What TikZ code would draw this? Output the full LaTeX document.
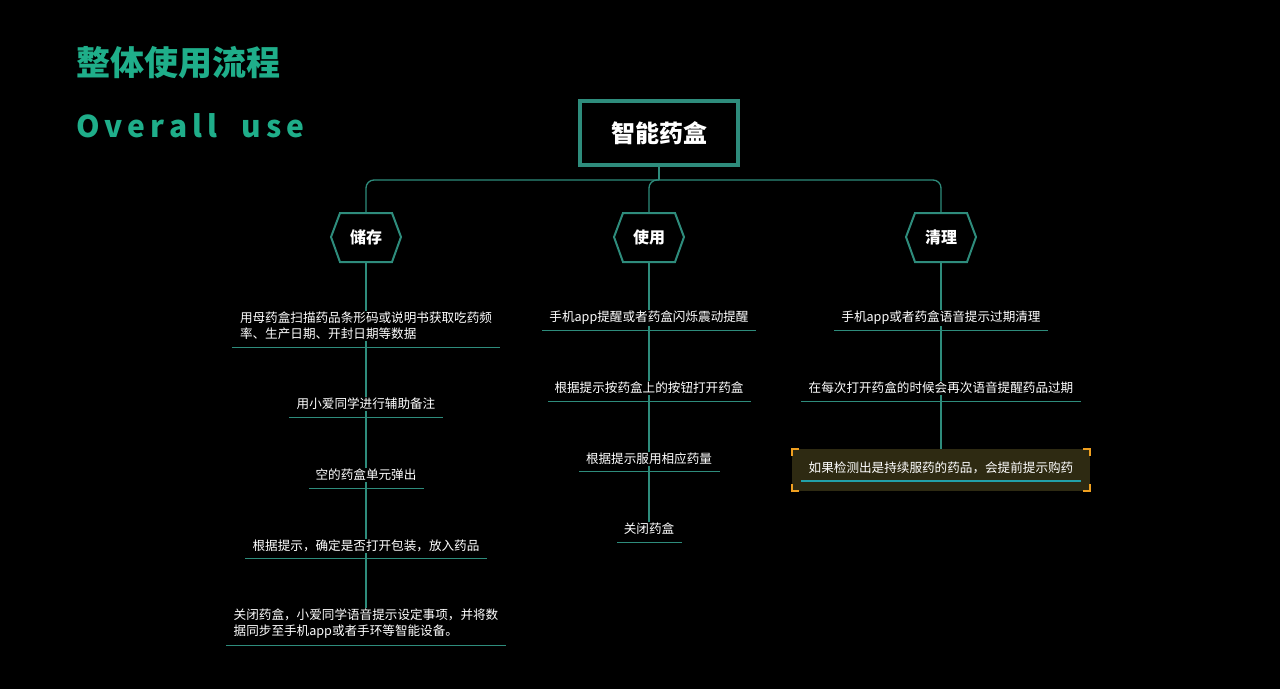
\documentclass[tikz,border=0pt]{standalone}
\usepackage{fontspec}
\setmainfont{Noto Sans CJK SC}
\usetikzlibrary{shapes.geometric}
\definecolor{tl}{HTML}{2E8C7C}
\definecolor{gr}{HTML}{1FAE8A}
\definecolor{hl}{HTML}{2E2A12}
\definecolor{og}{HTML}{F0A020}
\definecolor{ul}{HTML}{22A0A8}
\begin{document}
\begin{tikzpicture}[x=1pt,y=-1pt,
  ln/.style={tl,line width=1.3pt},
  it/.style={fill=black,text=white,font=\fontsize{12.6}{16}\selectfont,inner sep=1pt,align=left}]
\fill[black] (0,0) rectangle (1280,689);
\useasboundingbox (0,0) rectangle (1280,689);
\node[anchor=west,text=gr,font=\bfseries\fontsize{34}{38}\selectfont,inner sep=0] (t1) at (76,63) {整体使用流程};
\node[anchor=west,text=gr,font=\bfseries\fontsize{30}{34}\selectfont,inner sep=0] (t2) at (76,126) {O\,v\,e\,r\,a\,l\,l\, \, u\,s\,e};
\node[draw=tl,line width=4pt,fill=black,minimum width=158pt,minimum height=64pt,text=white,font=\bfseries\fontsize{24}{28}\selectfont] (root) at (659,133) {智能药盒};
\coordinate (j) at (659,180);
\draw[ln] (root.south) -- (j);
\draw[ln,rounded corners=8pt] (366,213) |- (941,180) -- (941,213);
\draw[ln,rounded corners=8pt] (j) -| (649,213);
\draw[ln] (366,262) -- (366,620);
\draw[ln] (649,262) -- (649,525);
\draw[ln] (941,262) -- (941,460);
\foreach \n/\x/\t in {a/366/储存,b/649/使用,c/941/清理}{
  \filldraw[tl,line width=2pt,fill=black] (\x-26,213) -- (\x+26,213) -- (\x+35,237) -- (\x+26,262) -- (\x-26,262) -- (\x-35,237) -- cycle;
  \node[text=white,font=\bfseries\fontsize{16}{19}\selectfont] (h\n) at (\x,237) {\t};
}
\fill[hl] (792,449) rectangle (1090,491);
\draw[og,line width=1.5pt] (792,456) -- (792,449) -- (799,449) (1083,449) -- (1090,449) -- (1090,456) (792,484) -- (792,491) -- (799,491) (1083,491) -- (1090,491) -- (1090,484);
\node[it] (a1) at (366,326) {用母药盒扫描药品条形码或说明书获取吃药频\\率、生产日期、开封日期等数据};
\node[it] (a2) at (366,404) {用小爱同学进行辅助备注};
\node[it] (a3) at (366,475) {空的药盒单元弹出};
\node[it] (a4) at (366,546) {根据提示，确定是否打开包装，放入药品};
\node[it] (a5) at (366,624) {关闭药盒，小爱同学语音提示设定事项，并将数\\据同步至手机app或者手环等智能设备。};
\node[it] (b1) at (649,318) {手机app提醒或者药盒闪烁震动提醒};
\node[it] (b2) at (649,388) {根据提示按药盒上的按钮打开药盒};
\node[it] (b3) at (649,459) {根据提示服用相应药量};
\node[it] (b4) at (649,529) {关闭药盒};
\node[it] (c1) at (941,318) {手机app或者药盒语音提示过期清理};
\node[it] (c2) at (941,388) {在每次打开药盒的时候会再次语音提醒药品过期};
\node[it,fill=hl] (c3) at (941,468) {如果检测出是持续服药的药品，会提前提示购药};
\foreach \y/\l/\r in {347/232/500,417/289/443,488/309/424,558/245/487,645/226/506,330/542/756,401/548/751,471/579/720,542/617/682,330/834/1048,401/801/1081}
  \draw[tl,line width=1pt] (\l,\y) -- (\r,\y);
\draw[ul,line width=1.5pt] (801,481) -- (1081,481);
\end{tikzpicture}
\end{document}
